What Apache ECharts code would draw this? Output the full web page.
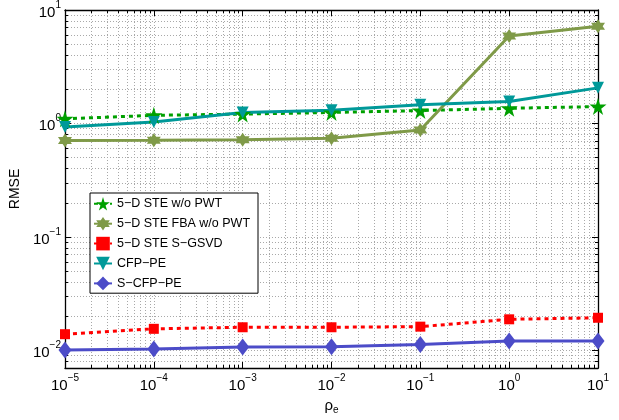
<!DOCTYPE html>
<html>
<head>
<meta charset="utf-8">
<script src="https://cdn.jsdelivr.net/npm/echarts@6/dist/echarts.min.js"></script>
<style>html,body{margin:0;padding:0;background:#fff}#c{width:619px;height:420px}</style>
</head>
<body>
<div id="c"></div>
<script>
// ---- data ----
const xValues = [1e-5, 1e-4, 1e-3, 1e-2, 1e-1, 1, 10];
const steWoPwt   = [1.10, 1.18, 1.21, 1.25, 1.30, 1.36, 1.41];
const steFbaWoPwt= [0.708, 0.71, 0.72, 0.74, 0.875, 5.9, 7.2];
const steSGsvd   = [0.0139, 0.0155, 0.0160, 0.0160, 0.0162, 0.0188, 0.0194];
const cfpPe      = [0.93, 1.03, 1.25, 1.31, 1.46, 1.56, 2.06];
const sCfpPe     = [0.0101, 0.0103, 0.0107, 0.0108, 0.0113, 0.0121, 0.0121];
const seriesNames = ['5\u2212D STE w/o PWT', '5\u2212D STE FBA w/o PWT', '5\u2212D STE S\u2212GSVD', 'CFP\u2212PE', 'S\u2212CFP\u2212PE'];
const xDecades = [1e-5, 1e-4, 1e-3, 1e-2, 1e-1, 1, 10];
const yDecades = [1e-2, 1e-1, 1, 10];
const xMin = 1e-5, xMax = 10, yMin = 0.007, yMax = 10;

function minorTicks(decades, lo, hi) {
  const out = [];
  decades.concat([decades[0] / 10]).forEach(d => {
    for (let m = 1; m <= 9; m++) {
      const v = +(m * d).toPrecision(6);
      if (v >= lo * 0.9999 && v <= hi * 1.0001) out.push(v);
    }
  });
  return out.sort((a, b) => a - b);
}
const xAll = minorTicks(xDecades, xMin, xMax);
const yAll = minorTicks(yDecades, yMin, yMax);

const FONT = '"Liberation Sans", Arial, sans-serif';
function powLabel(v) {
  const e = Math.round(Math.log10(v));
  return '{b|10}{s|' + (e < 0 ? '\u2212' + (-e) : e) + '}';
}
const richPow = {
  b: { fontSize: 15, fontFamily: FONT, color: '#000', padding: [5, 0, 0, 0], verticalAlign: 'bottom' },
  s: { fontSize: 10, fontFamily: FONT, color: '#000', verticalAlign: 'top' }
};
const gridLine = { show: true, lineStyle: { color: '#a8a8a8', type: [1, 2], width: 1 } };
const axisLine = { show: true, onZero: false, lineStyle: { color: '#000', width: 1.3 } };

function mkX(pos, major, main) {
  return {
    type: 'log', logBase: 10, min: xMin, max: xMax, position: pos,
    axisLine: major ? { show: false } : axisLine,
    axisTick: { show: true, inside: true, length: major ? 6 : 3, lineStyle: { color: '#000', width: 1 }, customValues: major ? xDecades : xAll },
    axisLabel: main ? { show: true, customValues: xDecades, formatter: powLabel, rich: richPow, margin: 5 } : { show: false },
    splitLine: (main) ? gridLine : { show: false },
    minorTick: { show: false },
    name: main ? '{a|\u03c1}{e|e}' : '',
    nameLocation: 'middle', nameGap: 28,
    nameTextStyle: { rich: { a: { fontSize: 15, fontFamily: FONT, color: '#000' }, e: { fontSize: 10, fontFamily: FONT, color: '#000', verticalAlign: 'bottom', padding: [9, 0, 0, 0] } } }
  };
}
function mkY(pos, major, main) {
  return {
    type: 'log', logBase: 10, min: yMin, max: yMax, position: pos,
    axisLine: major ? { show: false } : axisLine,
    axisTick: { show: true, inside: true, length: major ? 6 : 3, lineStyle: { color: '#000', width: 1 }, customValues: major ? yDecades : yAll },
    axisLabel: main ? { show: true, customValues: yDecades, formatter: powLabel, rich: richPow, margin: 4 } : { show: false },
    splitLine: main ? gridLine : { show: false },
    minorTick: { show: false },
    name: main ? 'RMSE' : '',
    nameLocation: 'middle', nameGap: 26,
    nameTextStyle: { fontSize: 14, fontFamily: FONT, color: '#000' }
  };
}

const starPath = 'path://M50,0L61,35L98,35L68,57L79,91L50,70L21,91L32,57L2,35L39,35Z';
const hexPath = 'path://M50,0L64.5,24.9L93.3,25L79,50L93.3,75L64.5,75.1L50,100L35.5,75.1L6.7,75L21,50L6.7,25L35.5,24.9Z';

function pairs(vals) { return xValues.map((x, i) => [x, vals[i]]); }
function mkSeries(name, vals, color, symbol, size, dashed, rotate) {
  return {
    name: name, type: 'line', data: pairs(vals), xAxisIndex: 0, yAxisIndex: 0,
    symbol: symbol, symbolSize: size, symbolRotate: rotate || 0, showSymbol: true,
    lineStyle: { color: color, width: 3, type: dashed ? [4, 4] : 'solid', cap: 'butt' },
    itemStyle: { color: color, borderWidth: 0 },
    emphasis: { disabled: true },
    z: 3
  };
}

const chart = echarts.init(document.getElementById('c'), null, { renderer: 'canvas' });
chart.setOption({
  animation: false,
  backgroundColor: '#fff',
  grid: { left: 57, right: 21, top: 10, bottom: 43, containLabel: false },
  xAxis: [mkX('bottom', false, true), mkX('bottom', true, false), mkX('top', false, false), mkX('top', true, false)],
  yAxis: [mkY('left', false, true), mkY('left', true, false), mkY('right', false, false), mkY('right', true, false)],
  legend: {
    orient: 'vertical', left: 90, top: 193,
    padding: [4, 8, 3, 3],
    itemWidth: 18, itemHeight: 17, itemGap: 6.3,
    borderColor: '#000', borderWidth: 1, backgroundColor: '#fff',
    textStyle: { fontSize: 12.5, fontFamily: FONT, color: '#000' },
    data: seriesNames
  },
  series: [
    mkSeries(seriesNames[0], steWoPwt, '#00a000', starPath, 17, true),
    mkSeries(seriesNames[1], steFbaWoPwt, '#7f9a48', hexPath, 14, false),
    mkSeries(seriesNames[2], steSGsvd, '#ff0000', 'rect', 10, true),
    mkSeries(seriesNames[3], cfpPe, '#009999', 'triangle', 12, false, 180),
    mkSeries(seriesNames[4], sCfpPe, '#4c4cc8', 'diamond', [13, 17], false)
  ]
});
</script>
</body>
</html>
